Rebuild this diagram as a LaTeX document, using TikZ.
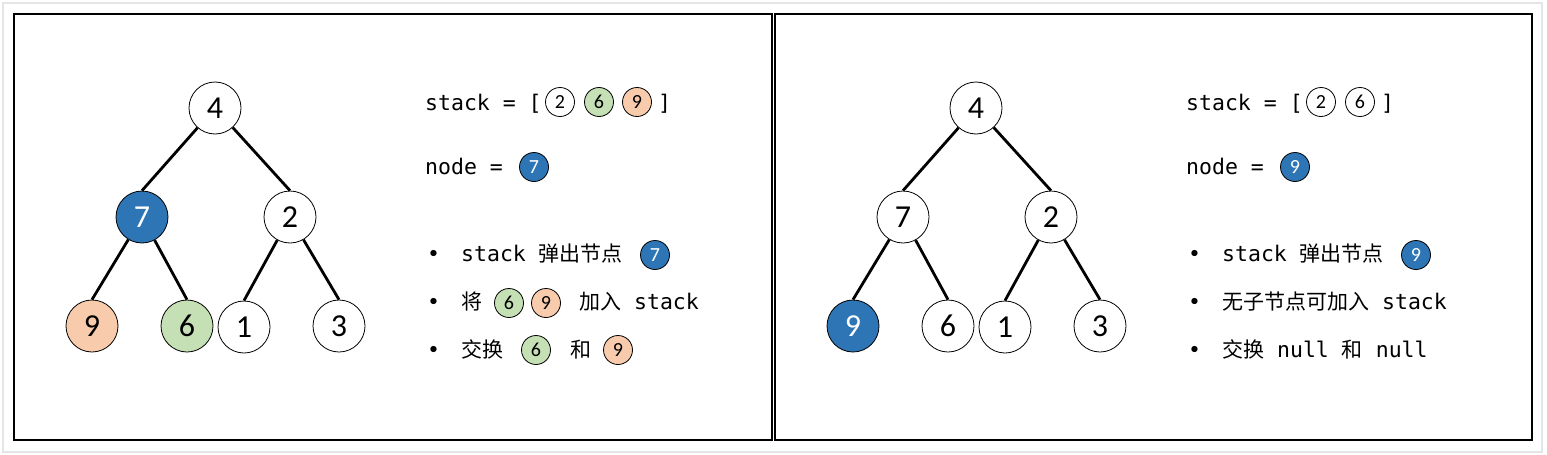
\documentclass[tikz,border=0pt]{standalone}
\usepackage{fontspec}
\setmonofont{DejaVu Sans Mono}
\newfontfamily\cjk{Noto Sans CJK SC}
\newfontfamily\numfont[Numbers=Lining]{Carlito}
\usepackage{tikz}
\definecolor{nodeblue}{HTML}{2E75B6}
\definecolor{nodegreen}{HTML}{C5E0B4}
\definecolor{nodeorange}{HTML}{F8CBAD}
\tikzset{
    treenode/.style={circle,draw,line width=0.8pt,minimum size=52pt,inner sep=0pt,font=\numfont\fontsize{32}{38}\selectfont},
    smallnode/.style={circle,draw,line width=0.8pt,minimum size=29pt,inner sep=0pt,font=\numfont\fontsize{20}{24}\selectfont},
    picked/.style={fill=nodeblue,text=white},
    codetext/.style={anchor=base west,inner sep=0pt,font=\ttfamily\fontsize{21.5}{26}\selectfont},
    treeline/.style={line width=2.8pt},
    panel/.style={line width=2.8pt}
}

\begin{document}
\begin{tikzpicture}[x=1pt,y=-1pt]
        \useasboundingbox (0,0) rectangle (1547,455);
        \draw[gray!20,line width=1.5pt] (3,3) rectangle (1542,452);

        % 两个面板
        \draw[panel] (14,14) rectangle (772,440);
        \draw[panel] (775,14) rectangle (1532,440);

        % 左侧的树
        \node[treenode] (a4) at (215,108) {4};
        \node[treenode,picked] (a7) at (142,217) {7};
        \node[treenode] (a2) at (290,217) {2};
        \node[treenode,fill=nodeorange] (a9) at (92,326) {9};
        \node[treenode,fill=nodegreen] (a6) at (187,326) {6};
        \node[treenode] (a1) at (244,327) {1};
        \node[treenode] (a3) at (339,326) {3};

        \draw[treeline] (a4) -- (a7.north);
        \draw[treeline] (a4) -- (a2.north);
        \draw[treeline] (a7) -- (a9.north);
        \draw[treeline] (a7) -- (a6.north);
        \draw[treeline] (a2) -- (a1.north);
        \draw[treeline] (a2) -- (a3.north);

        % 左侧的说明
        \node[codetext] (astack) at (425,110) {stack = [};
        \node[smallnode] (as2) at (560,102) {2};
        \node[smallnode,fill=nodegreen] (as6) at (599,102) {6};
        \node[smallnode,fill=nodeorange] (as9) at (637,102) {9};
        \node[codetext] (aclose) at (658,110) {]};

        \node[codetext] (anode) at (425,174) {node =};
        \node[smallnode,picked] (anow) at (534,167) {7};

        \node[codetext] (ab1) at (427,261) {•};
        \node[codetext] (at1) at (461,261) {stack {\cjk\fontsize{21}{26}\selectfont 弹出节点}};
        \node[smallnode,picked] (ac1) at (655,255) {7};

        \node[codetext] (ab2) at (427,309) {•};
        \node[codetext] (at2) at (461,309) {\cjk\fontsize{21}{26}\selectfont 将};
        \node[smallnode,fill=nodegreen] (ac2) at (509,303) {6};
        \node[smallnode,fill=nodeorange] (ac3) at (546,303) {9};
        \node[codetext] (at3) at (579,309) {{\cjk\fontsize{21}{26}\selectfont 加入} stack};

        \node[codetext] (ab3) at (427,357) {•};
        \node[codetext] (at4) at (461,357) {\cjk\fontsize{21}{26}\selectfont 交换};
        \node[smallnode,fill=nodegreen] (ac4) at (536,350) {6};
        \node[codetext] (at5) at (570,357) {\cjk\fontsize{21}{26}\selectfont 和};
        \node[smallnode,fill=nodeorange] (ac5) at (618,350) {9};

        % 右侧的树
        \node[treenode] (b4) at (976,108) {4};
        \node[treenode] (b7) at (903,217) {7};
        \node[treenode] (b2) at (1051,217) {2};
        \node[treenode,picked] (b9) at (853,326) {9};
        \node[treenode] (b6) at (948,326) {6};
        \node[treenode] (b1) at (1005,327) {1};
        \node[treenode] (b3) at (1100,326) {3};

        \draw[treeline] (b4) -- (b7.north);
        \draw[treeline] (b4) -- (b2.north);
        \draw[treeline] (b7) -- (b9.north);
        \draw[treeline] (b7) -- (b6.north);
        \draw[treeline] (b2) -- (b1.north);
        \draw[treeline] (b2) -- (b3.north);

        % 右侧的说明
        \node[codetext] (bstack) at (1186,110) {stack = [};
        \node[smallnode] (bs2) at (1321,102) {2};
        \node[smallnode] (bs6) at (1360,102) {6};
        \node[codetext] (bclose) at (1381,110) {]};

        \node[codetext] (bnode) at (1186,174) {node =};
        \node[smallnode,picked] (bnow) at (1295,167) {9};

        \node[codetext] (bb1) at (1188,261) {•};
        \node[codetext] (bt1) at (1222,261) {stack {\cjk\fontsize{21}{26}\selectfont 弹出节点}};
        \node[smallnode,picked] (bc1) at (1416,255) {9};

        \node[codetext] (bb2) at (1188,309) {•};
        \node[codetext] (bt2) at (1222,309) {{\cjk\fontsize{21}{26}\selectfont 无子节点可加入} stack};

        \node[codetext] (bb3) at (1188,357) {•};
        \node[codetext] (bt3) at (1222,357) {{\cjk\fontsize{21}{26}\selectfont 交换} null {\cjk\fontsize{21}{26}\selectfont 和} null};
    \end{tikzpicture}
\end{document}
